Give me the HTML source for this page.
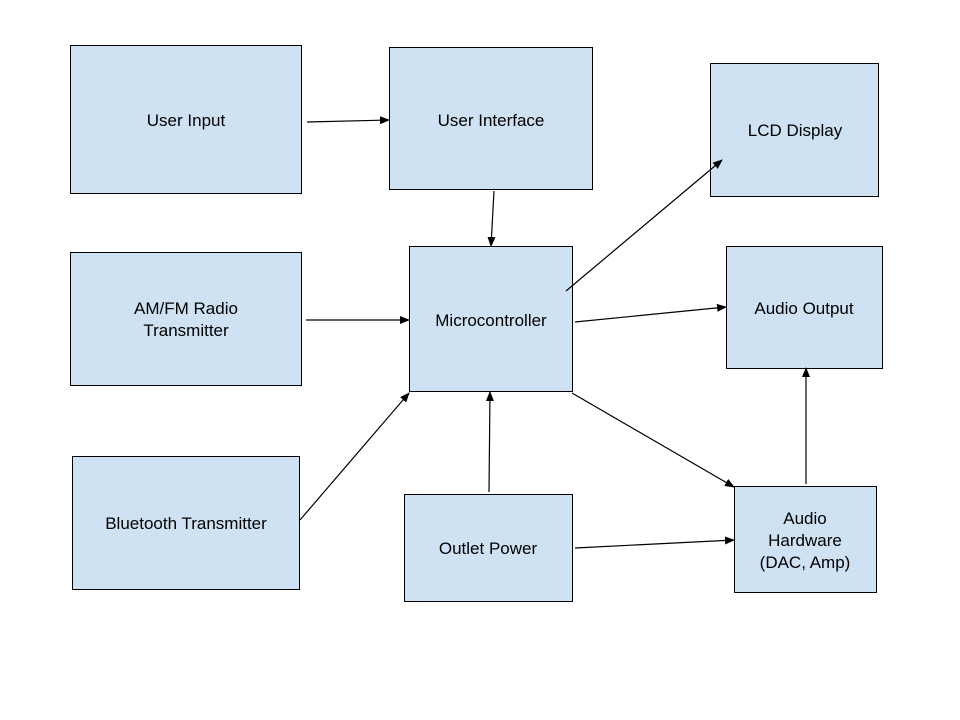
<!DOCTYPE html>
<html><head><meta charset="utf-8"><style>html,body{margin:0;padding:0;background:#fff}svg{display:block}</style></head>
<body>
<svg width="960" height="720" viewBox="0 0 960 720" xmlns="http://www.w3.org/2000/svg">
<defs><marker id="a" markerWidth="10" markerHeight="8" refX="9" refY="4" orient="auto" markerUnits="userSpaceOnUse"><path d="M0,0 L10,4 L0,8 Z" fill="#000"/></marker></defs>
<g fill="#cfe2f3" stroke="#000" stroke-width="1">
<rect x="70.5" y="45.5" width="231" height="148"/>
<rect x="389.5" y="47.5" width="203" height="142"/>
<rect x="710.5" y="63.5" width="168" height="133"/>
<rect x="70.5" y="252.5" width="231" height="133"/>
<rect x="409.5" y="246.5" width="163" height="145"/>
<rect x="726.5" y="246.5" width="156" height="122"/>
<rect x="72.5" y="456.5" width="227" height="133"/>
<rect x="404.5" y="494.5" width="168" height="107"/>
<rect x="734.5" y="486.5" width="142" height="106"/>
</g>
<g stroke="#000" stroke-width="1.2" marker-end="url(#a)" fill="none">
<line x1="307" y1="122" x2="389" y2="120"/>
<line x1="494" y1="191" x2="491" y2="246"/>
<line x1="566" y1="291" x2="722" y2="160"/>
<line x1="306" y1="320" x2="409" y2="320"/>
<line x1="300" y1="520" x2="409" y2="393"/>
<line x1="575" y1="322" x2="726" y2="307"/>
<line x1="489" y1="492" x2="490" y2="392"/>
<line x1="572" y1="393" x2="734" y2="487"/>
<line x1="575" y1="548" x2="734" y2="540"/>
<line x1="806" y1="484" x2="806" y2="368"/>
</g>
<g font-family="Liberation Sans, Arial, sans-serif" font-size="17" text-anchor="middle" fill="#000">
<text x="186" y="126">User Input</text>
<text x="491" y="126">User Interface</text>
<text x="795" y="136">LCD Display</text>
<text x="186" y="314">AM/FM Radio</text>
<text x="186" y="336">Transmitter</text>
<text x="491" y="326">Microcontroller</text>
<text x="804" y="314">Audio Output</text>
<text x="186" y="529">Bluetooth Transmitter</text>
<text x="488" y="554">Outlet Power</text>
<text x="805" y="524">Audio</text>
<text x="805" y="546">Hardware</text>
<text x="805" y="568">(DAC, Amp)</text>
</g>
</svg>
</body></html>
